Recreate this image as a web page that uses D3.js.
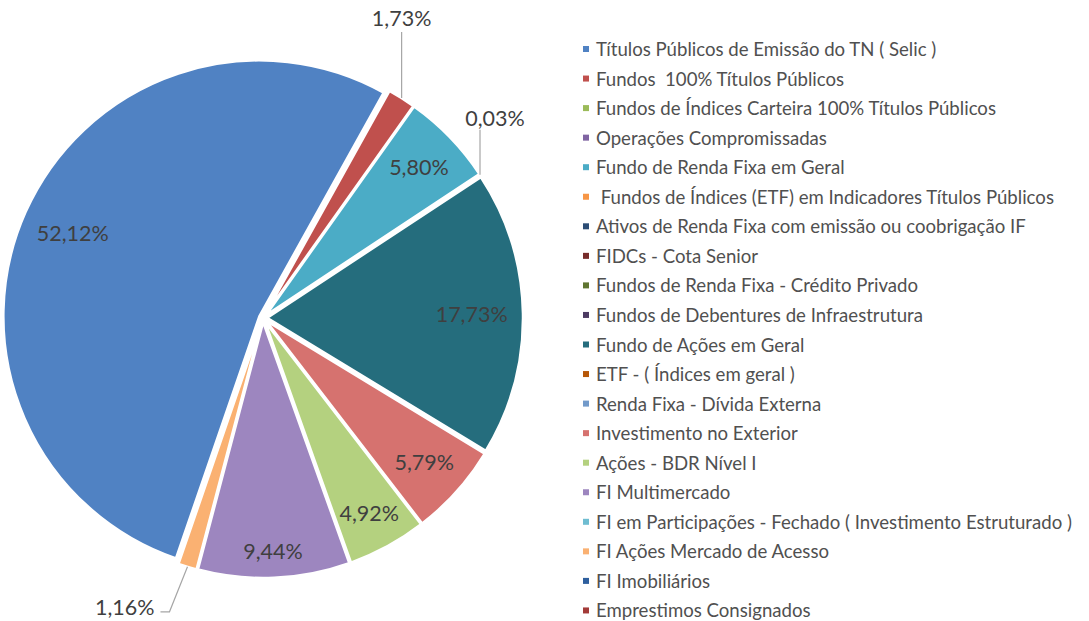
<!DOCTYPE html>
<html><head><meta charset="utf-8">
<script src="https://cdn.jsdelivr.net/npm/d3@7"></script>
<style>body{margin:0;background:#fff}</style>
</head><body><svg id="c" width="1089" height="621"></svg>
<script>
const categories = [
  "Títulos Públicos de Emissão do TN ( Selic )",
  "Fundos  100% Títulos Públicos",
  "Fundos de Índices Carteira 100% Títulos Públicos",
  "Operações Compromissadas",
  "Fundo de Renda Fixa em Geral",
  " Fundos de Índices (ETF) em Indicadores Títulos Públicos",
  "Ativos de Renda Fixa com emissão ou coobrigação IF",
  "FIDCs - Cota Senior",
  "Fundos de Renda Fixa - Crédito Privado",
  "Fundos de Debentures de Infraestrutura",
  "Fundo de Ações em Geral",
  "ETF - ( Índices em geral )",
  "Renda Fixa - Dívida Externa",
  "Investimento no Exterior",
  "Ações - BDR Nível I",
  "FI Multimercado",
  "FI em Participações - Fechado ( Investimento Estruturado )",
  "FI Ações Mercado de Acesso",
  "FI Imobiliários",
  "Emprestimos Consignados"
];
const values = [52.12, 1.73, 0, 0, 5.80, 0.03, 0, 0, 0, 0, 17.73, 0, 0, 5.79, 4.92, 9.44, 0, 1.16, 0, 0];
const colors = [
  "#5082C3", "#C0504D", "#9BBB59", "#8064A2", "#4BACC6", "#F79646",
  "#2C4D75", "#772C2A", "#5F7530", "#4D3B62", "#256D7D", "#B65708",
  "#729ACA", "#D6726F", "#B4D17F", "#9D86BF", "#6FBDD1", "#FAB172",
  "#2E5F9E", "#A33B38"
];

const W = 1089, H = 621;
const cx = 263, cy = 318, R = 256, explode = 4;
const startDeg = 199;
const svg = d3.select("#c");

const pie = d3.pie().sort(null).value(d => d)
  .startAngle(startDeg * Math.PI / 180)
  .endAngle(startDeg * Math.PI / 180 + 2 * Math.PI);
const arcs = pie(values).map((a, i) => ({...a, i}));
const arc = d3.arc().innerRadius(0).outerRadius(R);
const fmt = v => d3.format(".2f")(v).replace(".", ",") + "%";

const g = svg.append("g").attr("transform", `translate(${cx},${cy})`);
const mid = a => (a.startAngle + a.endAngle) / 2;
const off = a => [Math.sin(mid(a)) * explode, -Math.cos(mid(a)) * explode];

g.selectAll("path.slice").data(arcs.filter(a => a.value > 0)).join("path")
  .attr("class", "slice")
  .attr("d", arc)
  .attr("transform", a => `translate(${off(a)[0]},${off(a)[1]})`)
  .attr("fill", a => colors[a.i])
  .attr("stroke", "#fff").attr("stroke-width", 2.5).attr("stroke-linejoin", "round");

// inside labels
const labelFont = "Lato, 'Open Sans', sans-serif";
const inside = arcs.filter(a => a.value >= 3);
inside.forEach(a => {
  const t = g.append("text").text(fmt(a.value))
    .attr("font-family", labelFont).attr("font-size", 21.5)
    .attr("fill", "#3F3F3F").attr("text-anchor", "middle")
    .attr("dominant-baseline", "central");
  const w = t.node().getComputedTextLength(), h = 18;
  const m = mid(a), ux = Math.sin(m), uy = -Math.cos(m);
  const b = Math.abs(ux) * w / 2 + Math.abs(uy) * h / 2;
  const c = (w * w + h * h) / 4 - Math.pow(R - 15, 2);
  const r = -b + Math.sqrt(b * b - c);
  t.attr("x", ux * r + off(a)[0]).attr("y", uy * r + off(a)[1]);
});

// outside labels with leader lines
const outsideLayout = {
  1:  {path: [[0, 0], [0, -66]], text: [0, -80], anchor: "middle"},
  5:  {path: [[0, 0], [0, -45]], text: [15, -57], anchor: "middle"},
  17: {path: [[0, 0], [-18, 45], [-27, 45]], text: [-33, 40], anchor: "end"}
};
arcs.filter(a => a.value > 0 && a.value < 3).forEach(a => {
  const L = outsideLayout[a.i];
  const m = mid(a);
  const ax = Math.sin(m) * (R + explode), ay = -Math.cos(m) * (R + explode);
  g.append("path")
    .attr("d", d3.line()(L.path.map(p => [ax + p[0], ay + p[1]])))
    .attr("fill", "none").attr("stroke", "#A6A6A6").attr("stroke-width", 1.2);
  g.append("text").text(fmt(a.value))
    .attr("x", ax + L.text[0]).attr("y", ay + L.text[1])
    .attr("font-family", labelFont).attr("font-size", 21.5)
    .attr("fill", "#3F3F3F").attr("text-anchor", L.anchor)
    .attr("dominant-baseline", "central");
});

// legend
const legY0 = 49, legStep = 29.55, legX = 583;
const leg = svg.append("g");
categories.forEach((c, i) => {
  const y = legY0 + i * legStep;
  leg.append("rect").attr("x", legX).attr("y", y - 3).attr("width", 6).attr("height", 6)
    .attr("fill", colors[i]);
  leg.append("text").attr("x", legX + 13).attr("y", y)
    .attr("dominant-baseline", "central")
    .attr("font-family", "Lato, sans-serif").attr("font-size", 18.6)
    .attr("fill", "#505050")
    .attr("xml:space", "preserve").style("white-space", "pre")
    .text(c);
});
</script></body></html>
